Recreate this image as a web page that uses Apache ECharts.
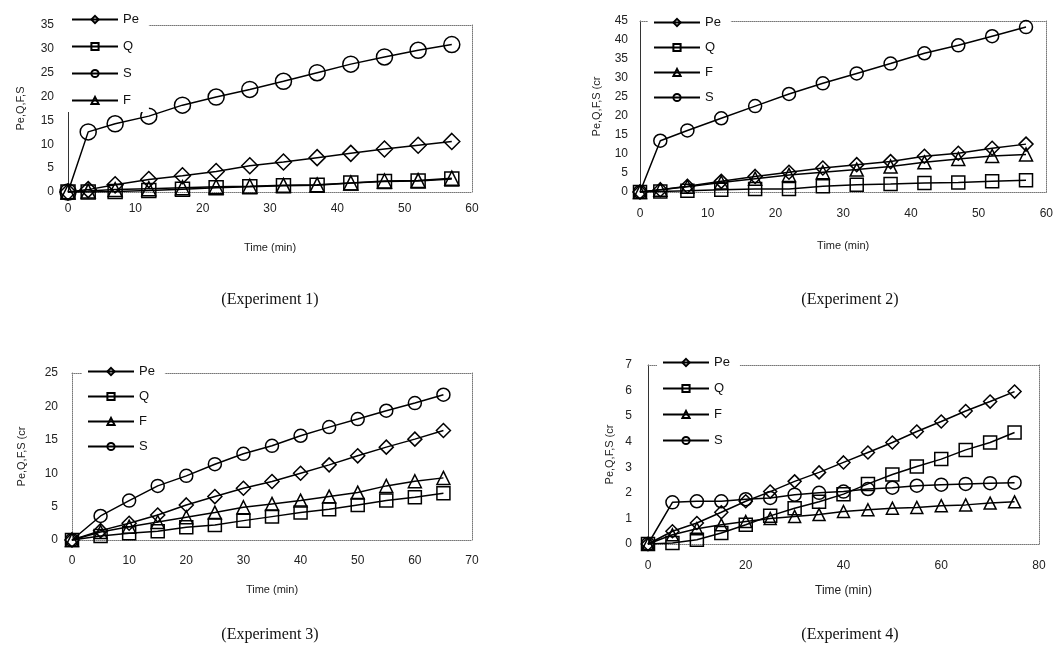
<!DOCTYPE html>
<html><head><meta charset="utf-8">
<script src="https://cdn.jsdelivr.net/npm/echarts@6/dist/echarts.min.js"></script>
<style>html,body{margin:0;padding:0;background:#fff}#c{width:1056px;height:646px}</style>
</head><body><div id="c"></div>
<script>
// ---------- data ----------
const e1_time = [0,3,7,12,17,22,27,32,37,42,47,52,57];
const e1_Pe = [0,0.5,1.5,2.6,3.4,4.3,5.5,6.3,7.2,8.1,9.0,9.8,10.6];
const e1_Q  = [0,0,0.1,0.3,0.6,0.9,1.1,1.3,1.4,1.9,2.2,2.3,2.7];
const e1_S  = [0,12.6,14.3,15.9,18.2,19.9,21.5,23.2,25.0,26.8,28.3,29.7,30.9];
const e1_F  = [0,0.2,0.5,0.7,0.9,1.1,1.2,1.4,1.5,1.9,2.3,2.4,2.9];

const e2_time = [0,3,7,12,17,22,27,32,37,42,47,52,57];
const e2_Pe = [0,0.6,1.5,2.8,4.1,5.2,6.3,7.2,8.0,9.4,10.2,11.5,12.6];
const e2_Q  = [0,0.1,0.3,0.6,0.8,0.8,1.5,1.9,2.1,2.4,2.5,2.8,3.1];
const e2_F  = [0,0.6,1.4,2.5,3.5,4.5,5.2,5.9,6.7,7.8,8.7,9.5,9.9];
const e2_S  = [0,13.5,16.2,19.4,22.6,25.8,28.6,31.2,33.8,36.5,38.6,41.0,43.4];

const e3_time = [0,5,10,15,20,25,30,35,40,45,50,55,60,65];
const e3_Pe = [0,1.4,2.5,3.75,5.25,6.5,7.75,8.75,10,11.25,12.6,13.9,15.1,16.4];
const e3_Q  = [0,0.6,1.0,1.3,1.9,2.25,2.9,3.5,4.1,4.6,5.25,5.9,6.4,7.0];
const e3_F  = [0,1.2,2.0,2.7,3.4,4.1,4.9,5.4,5.9,6.5,7.1,8.1,8.8,9.3];
const e3_S  = [0,3.6,5.9,8.1,9.6,11.35,12.9,14.1,15.6,16.9,18.1,19.35,20.5,21.75];

const e4_time = [0,5,10,15,20,25,30,35,40,45,50,55,60,65,70,75];
const e4_Pe = [0,0.5,0.82,1.24,1.67,2.05,2.45,2.8,3.19,3.58,3.97,4.4,4.79,5.2,5.57,5.96];
const e4_Q  = [0,0.04,0.17,0.43,0.75,1.1,1.4,1.65,1.95,2.35,2.72,3.03,3.32,3.68,3.97,4.36];
const e4_F  = [0,0.36,0.6,0.75,0.88,1.0,1.08,1.15,1.27,1.34,1.4,1.43,1.5,1.53,1.6,1.65];
const e4_S  = [0,1.63,1.67,1.67,1.75,1.8,1.93,2.0,2.05,2.15,2.2,2.28,2.32,2.35,2.38,2.4];

const captions = ['(Experiment 1)','(Experiment 2)','(Experiment 3)','(Experiment 4)'];
const yNames = ['Pe,Q,F,S','Pe,Q,F,S (cr','Pe,Q,F,S (cr','Pe,Q,F,S (cr'];
const xName = 'Time (min)';

// ---------- layout / style ----------
const FONT = 'Liberation Sans';
const symbolOf = {Pe:'diamond', Q:'rect', F:'triangle', S:'circle'};
const panels = [
  {grid:{left:68,top:25,width:404,height:167}, xMax:60, xInt:10, yMax:35, yInt:5,
   series:[['Pe',e1_Pe],['Q',e1_Q],['S',e1_S],['F',e1_F]], time:e1_time,
   sizes:{Pe:16,Q:14,S:16,F:14}, legend:{left:66,top:10,gap:14}, xLabM:11, yLabM:14, xNameGap:50, yNameGap:42, leftSolid:true,
   tick:12, cap:{x:265,y:287}},
  {grid:{left:640,top:21,width:409,height:171}, xMax:60, xInt:10, yMax:45, yInt:5,
   series:[['Pe',e2_Pe],['Q',e2_Q],['F',e2_F],['S',e2_S]], time:e2_time,
   sizes:{Pe:14,Q:13,S:13,F:13}, legend:{left:648,top:13,gap:12}, xLabM:16, yLabM:12, xNameGap:48, yNameGap:38, leftSolid:true,
   tick:12, cap:{x:845,y:287}},
  {grid:{left:72,top:373,width:400,height:167}, xMax:70, xInt:10, yMax:25, yInt:5,
   series:[['Pe',e3_Pe],['Q',e3_Q],['F',e3_F],['S',e3_S]], time:e3_time,
   sizes:{Pe:14,Q:13,S:13,F:13}, legend:{left:82,top:362,gap:12}, xLabM:15, yLabM:14, xNameGap:44, yNameGap:45, leftSolid:false,
   tick:12, cap:{x:265,y:622}},
  {grid:{left:648,top:365,width:391,height:179}, xMax:80, xInt:20, yMax:7, yInt:1,
   series:[['Pe',e4_Pe],['Q',e4_Q],['F',e4_F],['S',e4_S]], time:e4_time,
   sizes:{Pe:13,Q:13,S:13,F:12}, legend:{left:657,top:353,gap:13}, xLabM:16, yLabM:16, xNameGap:41, yNameGap:33, leftSolid:true,
   tick:12, cap:{x:845,y:622}}
];

const dotted = {show:true, onZero:false, lineStyle:{color:'#777', width:1, type:[1,1]}};
const option = {backgroundColor:'#fff', animation:false, grid:[], xAxis:[], yAxis:[], series:[], legend:[], title:[]};

panels.forEach((p, i) => {
  option.grid.push(p.grid);
  option.xAxis.push({type:'value', gridIndex:i, min:0, max:p.xMax, interval:p.xInt,
    name:xName, nameLocation:'middle', nameGap:p.xNameGap,
    nameTextStyle:{fontFamily:FONT, fontSize:i===3?12:11, color:'#222'},
    axisLine:dotted, axisTick:{show:false}, splitLine:{show:false},
    axisLabel:{fontFamily:FONT, fontSize:p.tick, color:'#222', margin:p.xLabM}});
  option.xAxis.push({type:'value', gridIndex:i, position:'top', min:0, max:1,
    axisLine:dotted, axisTick:{show:false}, axisLabel:{show:false}, splitLine:{show:false}});
  option.yAxis.push({type:'value', gridIndex:i, min:0, max:p.yMax, interval:p.yInt,
    name:yNames[i], nameLocation:'middle', nameGap:p.yNameGap, nameRotate:90,
    nameTextStyle:{fontFamily:FONT, fontSize:11, color:'#222'},
    axisLine:p.leftSolid ? {show:true, onZero:false, lineStyle:{color:'#333', width:1}} : dotted,
    axisTick:{show:false}, splitLine:{show:false},
    axisLabel:{fontFamily:FONT, fontSize:p.tick, color:'#222', margin:p.yLabM}});
  option.yAxis.push({type:'value', gridIndex:i, position:'right', min:0, max:1,
    axisLine:dotted, axisTick:{show:false}, axisLabel:{show:false}, splitLine:{show:false}});

  p.series.forEach(([name, vals]) => {
    option.series.push({
      type:'line', name, xAxisIndex:2*i, yAxisIndex:2*i,
      data: p.time.map((t, k) => [t, vals[k]]),
      symbol: symbolOf[name], symbolSize: p.sizes[name], showAllSymbol:true,
      lineStyle:{color:'#000', width:1.5},
      itemStyle:{color:'rgba(255,255,255,0)', borderColor:'#000', borderWidth:1.5},
      emphasis:{disabled:true}
    });
  });

  option.legend.push({
    orient:'vertical', left:p.legend.left, top:p.legend.top,
    data:p.series.map(s => s[0]), backgroundColor:'#fff',
    padding:[3,10,5,5], itemGap:p.legend.gap, itemWidth:46, itemHeight:9,
    textStyle:{fontFamily:FONT, fontSize:13, color:'#111'}, selectedMode:false, z:10
  });

  option.title.push({text:captions[i], left:p.cap.x, top:p.cap.y, textAlign:'center',
    textStyle:{fontFamily:'Liberation Serif', fontSize:16, fontWeight:'normal', color:'#111'}});
});

const chart = echarts.init(document.getElementById('c'), null, {renderer:'canvas'});
chart.setOption(option);
</script></body></html>
